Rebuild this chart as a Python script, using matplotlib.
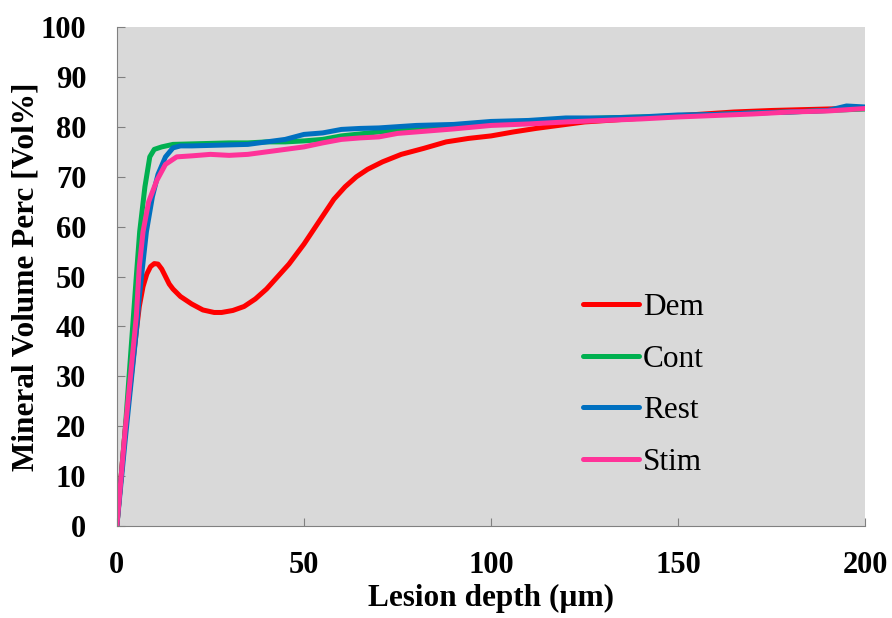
import matplotlib
matplotlib.use("Agg")
import matplotlib.pyplot as plt

# Lesion depth (um) and mineral volume (vol%) for each group
dem_x = [0, 2.2, 5.2, 6, 7, 8, 9, 10, 11, 12, 13, 14, 15, 17, 20, 23, 26, 28, 31, 34,
         37, 40, 43, 46, 50, 54, 58, 61, 64, 67, 71, 76, 82, 88, 94, 100, 106, 112, 118,
         125, 135, 145, 155, 165, 175, 185, 195, 200]
dem_y = [0, 19, 39, 44, 48, 50.5, 52, 52.6, 52.5, 51.5, 50, 48.5, 47.5, 46,
         44.5, 43.3, 42.8, 42.8, 43.2, 44, 45.5, 47.5, 50, 52.5, 56.5, 61, 65.5, 68, 70,
         71.5, 73, 74.5, 75.7, 77, 77.7, 78.2, 79, 79.7, 80.3, 81, 81.5, 82, 82.5, 83, 83.3,
         83.5, 83.7, 83.9]

cont_x = [0, 2.2, 5.2, 6.1, 7.5, 8.8, 10, 12, 15, 20, 25, 30, 35, 40, 45, 50, 55, 60, 65,
          70, 80, 90, 100, 110, 120, 130, 140, 150, 160, 170, 180, 190, 200]
cont_y = [0, 19, 50, 59, 68, 74, 75.5, 76, 76.5, 76.6, 76.7, 76.8, 76.8, 77, 77,
          77.2, 77.5, 78.2, 78.6, 79, 79.7, 80.2, 80.6, 81, 81.5, 81.8, 82, 82.2, 82.5, 82.8,
          83, 83.3, 83.6]

rest_x = [0, 2.2, 5.2, 6, 7.9, 9.5, 11, 13, 15, 17, 20, 25, 30, 35, 40, 45, 50, 55, 60, 65,
          70, 80, 90, 100, 110, 120, 130, 140, 150, 160, 170, 180, 190, 195, 200]
rest_y = [0, 17, 39, 46, 59, 66, 70.5, 74, 75.8, 76.2, 76.2, 76.3, 76.4, 76.5, 77, 77.5,
          78.5, 78.8, 79.5, 79.7, 79.8, 80.3, 80.5, 81.1, 81.3, 81.8, 81.8, 82, 82.4, 82.5,
          82.8, 83, 83.3, 84.2, 84]

stim_x = [0, 2.2, 5.2, 6, 7, 8.5, 10.7, 13, 16, 20, 25, 30, 35, 40, 45, 50, 55, 60, 65, 70,
          75, 80, 90, 100, 110, 120, 130, 140, 150, 160, 170, 180, 190, 200]
stim_y = [0, 19, 42, 52, 59, 65, 69.3, 72.5, 74, 74.2, 74.5, 74.3, 74.5, 75, 75.5, 76,
          76.8, 77.5, 77.8, 78, 78.7, 79, 79.6, 80.3, 80.6, 81, 81.3, 81.6, 82, 82.3, 82.6,
          83, 83.2, 83.7]

x_ticks = [0, 50, 100, 150, 200]
y_ticks = [0, 10, 20, 30, 40, 50, 60, 70, 80, 90, 100]

plt.rcParams['font.family'] = ['Liberation Serif', 'DejaVu Serif']

fig = plt.figure(figsize=(8.92, 6.18), dpi=100)
ax = fig.add_axes([0.131, 0.149, 0.839, 0.807])
ax.set_facecolor('#d9d9d9')

lw = 3.6
ax.plot(dem_x, dem_y, color='#ff0000', lw=lw, label='Dem', solid_capstyle='round')
ax.plot(cont_x, cont_y, color='#00b050', lw=lw, label='Cont', solid_capstyle='round')
ax.plot(rest_x, rest_y, color='#0070c0', lw=lw, label='Rest', solid_capstyle='round')
ax.plot(stim_x, stim_y, color='#ff3399', lw=lw, label='Stim', solid_capstyle='round')

ax.set_xlim(0, 200)
ax.set_ylim(0, 100)
ax.set_xticks(x_ticks)
ax.set_yticks(y_ticks)
ax.tick_params(direction='in', length=6, color='#808080', labelsize=22)
ax.tick_params(axis='x', pad=18)
ax.tick_params(axis='y', pad=22)
for lab in ax.get_xticklabels() + ax.get_yticklabels():
    lab.set_fontweight('bold')

for side in ('top', 'right'):
    ax.spines[side].set_visible(False)
for side in ('left', 'bottom'):
    ax.spines[side].set_color('#808080')

ax.set_xlabel('Lesion depth (µm)', fontsize=22.5, fontweight='bold', labelpad=3)
ax.set_ylabel('Mineral Volume Perc [Vol%]', fontsize=22.5, fontweight='bold', labelpad=0)

ax.legend(loc='upper left', bbox_to_anchor=(0.585, 0.524), frameon=False, fontsize=22.5,
          handlelength=1.8, handletextpad=0.12, labelspacing=0.73)

fig.savefig('out.png', dpi=100)
